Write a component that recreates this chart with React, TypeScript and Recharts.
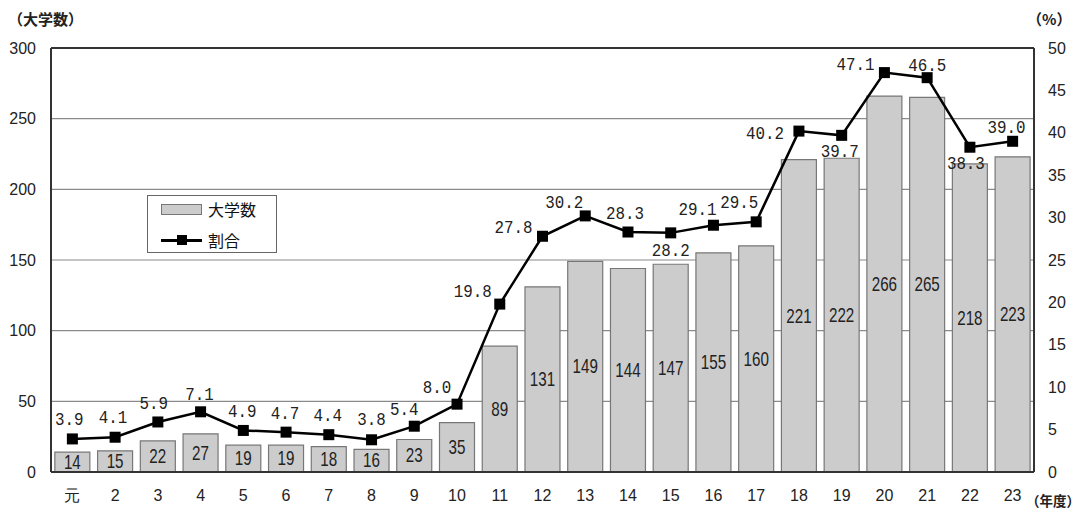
import React from "react";
import {
  ComposedChart,
  Bar,
  Line,
  XAxis,
  YAxis,
  CartesianGrid,
  LabelList,
  ReferenceLine,
} from "recharts";

// 年度 (平成)
const years = ["元", "2", "3", "4", "5", "6", "7", "8", "9", "10", "11", "12", "13", "14", "15", "16", "17", "18", "19", "20", "21", "22", "23"];
// 大学数
const universityCounts = [14, 15, 22, 27, 19, 19, 18, 16, 23, 35, 89, 131, 149, 144, 147, 155, 160, 221, 222, 266, 265, 218, 223];
// 割合 (%)
const ratios = [3.9, 4.1, 5.9, 7.1, 4.9, 4.7, 4.4, 3.8, 5.4, 8.0, 19.8, 27.8, 30.2, 28.3, 28.2, 29.1, 29.5, 40.2, 39.7, 47.1, 46.5, 38.3, 39.0];

const leftTicks = [0, 50, 100, 150, 200, 250, 300];
const rightTicks = [0, 5, 10, 15, 20, 25, 30, 35, 40, 45, 50];

// where each percentage label sits relative to its marker [dx, dy]
const ratioLabelPlacement: [number, number][] = [
  [-3, -19], [-2, -19], [-4, -18], [-1, -17], [-1, -18], [-1, -18], [-1, -18], [0, -20],
  [-10, -16], [-20, -16], [-27, -12], [-29, -8], [-21, -13], [-3, -18], [0, 18],
  [-16, -15], [-17, -19], [-34, 3], [-2, 17], [-29, -7], [0, -11], [-4, 17], [-6, -13],
];

const data = years.map((year, i) => ({
  year,
  count: universityCounts[i],
  ratio: ratios[i],
}));

const SANS = "'Liberation Sans', Arial, sans-serif";
const MONO = "'Liberation Mono', 'DejaVu Sans Mono', monospace";
const CJK = "'Noto Sans CJK JP', 'Noto Sans CJK SC', sans-serif";

const SquareDot = (props: any) => {
  const { cx, cy } = props;
  if (cx == null || cy == null) return null;
  return <rect x={cx - 5.5} y={cy - 5.5} width={11} height={11} fill="#000" />;
};

const BarValueLabel = (props: any) => {
  const { x, y, width, height, value } = props;
  const cx = x + width / 2;
  const cy = y + height / 2;
  return (
    <text
      x={cx}
      y={cy}
      textAnchor="middle"
      dominantBaseline="central"
      fontSize={20}
      fontFamily={SANS}
      fill="#222"
      transform={`translate(${cx} ${cy}) scale(0.76 1) translate(${-cx} ${-cy})`}
    >
      {value}
    </text>
  );
};

const RatioLabel = (props: any) => {
  const { x, y, index, value } = props;
  const [dx, dy] = ratioLabelPlacement[index] || [0, -18];
  const cx = x + dx;
  const cy = y + dy;
  return (
    <text
      x={cx}
      y={cy}
      textAnchor="middle"
      dominantBaseline="central"
      fontSize={18}
      fontFamily={MONO}
      fill="#222"
      transform={`translate(${cx} ${cy}) scale(0.88 1) translate(${-cx} ${-cy})`}
    >
      {Number(value).toFixed(1)}
    </text>
  );
};

const LegendBox = () => (
  <div
    style={{
      position: "absolute",
      left: 147,
      top: 195,
      width: 130,
      height: 58,
      border: "1px solid #666",
      background: "#fff",
      boxSizing: "border-box",
      fontFamily: CJK,
      fontSize: 16,
      color: "#111",
    }}
  >
    <div
      style={{
        position: "absolute",
        left: 13,
        top: 8,
        width: 41,
        height: 11,
        background: "#cccccc",
        border: "1px solid #777",
        boxSizing: "border-box",
      }}
    />
    <div style={{ position: "absolute", left: 60, top: 2, lineHeight: "22px" }}>大学数</div>
    <div
      style={{
        position: "absolute",
        left: 13,
        top: 43,
        width: 41,
        height: 2.5,
        background: "#000",
      }}
    />
    <div
      style={{
        position: "absolute",
        left: 29,
        top: 39,
        width: 10,
        height: 10,
        background: "#000",
      }}
    />
    <div style={{ position: "absolute", left: 60, top: 33, lineHeight: "22px" }}>割合</div>
  </div>
);

export default function App() {
  return (
    <div
      style={{
        position: "absolute",
        left: 0,
        top: 0,
        width: 1081,
        height: 510,
        background: "#fff",
        overflow: "hidden",
      }}
    >
      <ComposedChart
        width={1081}
        height={510}
        data={data}
        margin={{ top: 48, right: 0, bottom: 0, left: 0 }}
        barCategoryGap="9%"
      >
        <CartesianGrid vertical={false} stroke="#8a8a8a" strokeWidth={1.2} yAxisId="left" />
        <XAxis
          dataKey="year"
          height={38}
          tickLine={false}
          tickSize={0}
          tickMargin={18}
          axisLine={{ stroke: "#333", strokeWidth: 2 }}
          tick={{ fontSize: 16, fontFamily: SANS, fill: "#222" }}
          interval={0}
        />
        <YAxis
          yAxisId="left"
          orientation="left"
          width={51}
          domain={[0, 300]}
          ticks={leftTicks}
          tickLine={false}
          tickSize={0}
          tickMargin={15}
          axisLine={{ stroke: "#333", strokeWidth: 2 }}
          tick={{ fontSize: 16, fontFamily: SANS, fill: "#222" }}
        />
        <YAxis
          yAxisId="right"
          orientation="right"
          width={47}
          domain={[0, 50]}
          ticks={rightTicks}
          tickLine={false}
          tickSize={0}
          tickMargin={14}
          axisLine={{ stroke: "#333", strokeWidth: 2 }}
          tick={{ fontSize: 16, fontFamily: SANS, fill: "#222" }}
        />
        <ReferenceLine yAxisId="left" y={300} stroke="#333" strokeWidth={2} />
        <Bar
          yAxisId="left"
          dataKey="count"
          name="大学数"
          fill="#cccccc"
          stroke="#777"
          strokeWidth={1.2}
          isAnimationActive={false}
        >
          <LabelList dataKey="count" content={BarValueLabel} />
        </Bar>
        <Line
          yAxisId="right"
          type="linear"
          dataKey="ratio"
          name="割合"
          stroke="#000"
          strokeWidth={2.5}
          dot={<SquareDot />}
          activeDot={false}
          isAnimationActive={false}
        >
          <LabelList dataKey="ratio" content={RatioLabel} />
        </Line>
      </ComposedChart>
      <LegendBox />
      <div
        style={{
          position: "absolute",
          left: 8,
          top: 9,
          fontFamily: CJK,
          fontSize: 15,
          fontWeight: 700,
          color: "#222",
          lineHeight: "20px",
        }}
      >
        （大学数）
      </div>
      <div
        style={{
          position: "absolute",
          left: 1027,
          top: 9,
          fontFamily: CJK,
          fontSize: 15,
          fontWeight: 700,
          color: "#222",
          lineHeight: "20px",
        }}
      >
        （%）
      </div>
      <div
        style={{
          position: "absolute",
          left: 1026,
          top: 491,
          fontFamily: CJK,
          fontSize: 13.5,
          fontWeight: 700,
          color: "#222",
          lineHeight: "18px",
          whiteSpace: "nowrap",
        }}
      >
        （年度）
      </div>
    </div>
  );
}
